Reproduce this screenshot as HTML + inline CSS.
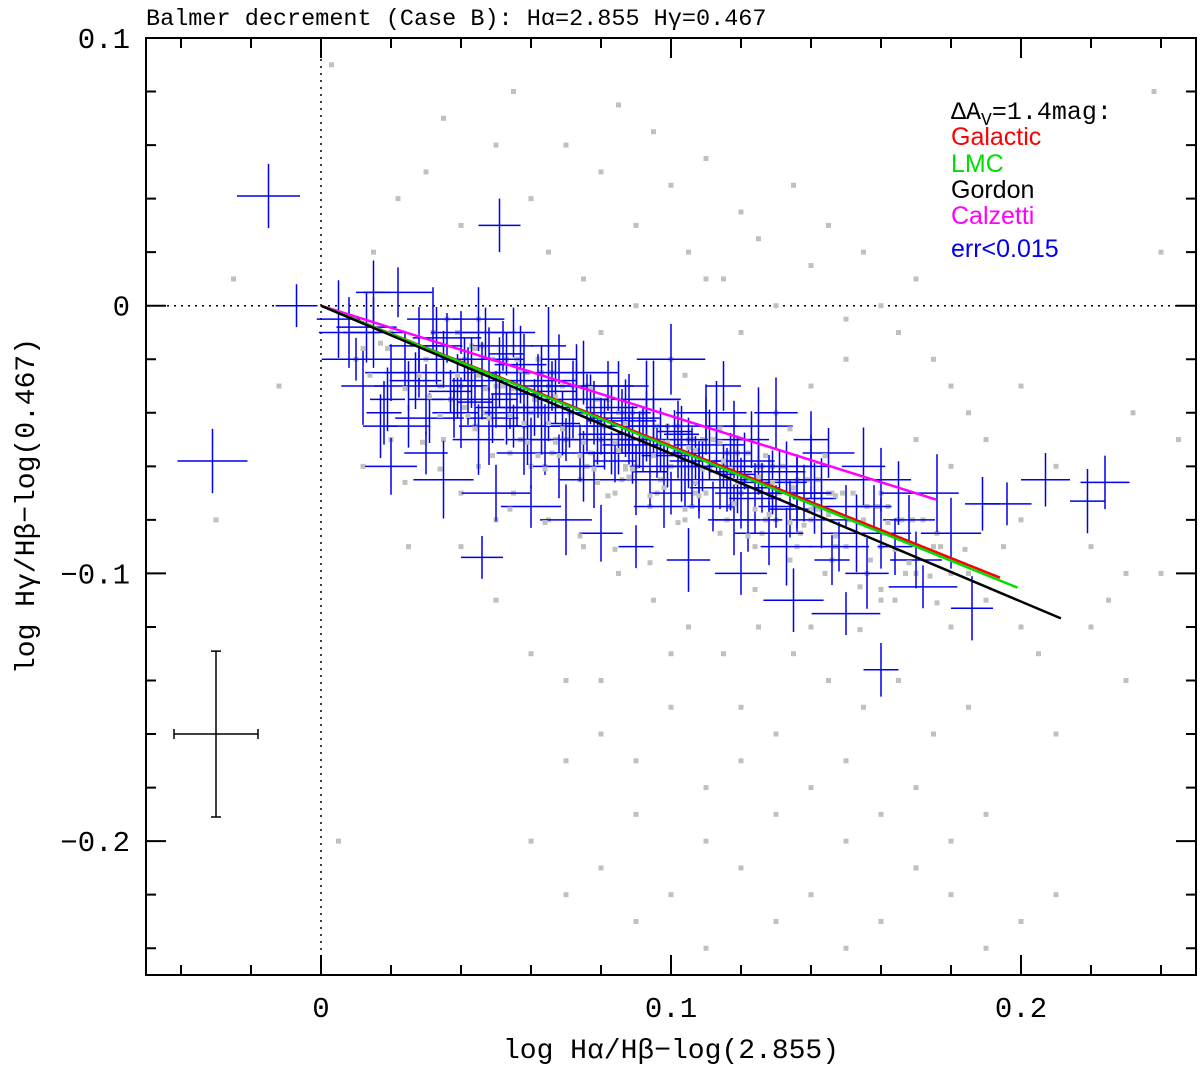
<!DOCTYPE html>
<html><head><meta charset="utf-8"><style>
body{margin:0;background:#fff;}
svg{display:block;}
</style></head><body>
<svg id="chart" width="1200" height="1068" xmlns="http://www.w3.org/2000/svg"></svg>
<script>
// ---- data ----
const xTicksMajor = [0, 0.1, 0.2];
const xTickLabels = ["0", "0.1", "0.2"];
const yTicksMajor = [0.1, 0, -0.1, -0.2];
const yTickLabels = ["0.1", "0", "\u22120.1", "\u22120.2"];
const galacticEnd = [0.194, -0.1016];
const lmcEnd = [0.199, -0.1053];
const gordonEnd = [0.2114, -0.1168];
const calzettiEnd = [0.1757, -0.0724];
const exampleErr = [-0.03, -0.16, 0.012, 0.031];
const grayX = [-0.025,-0.03,-0.012,0.003,0.005,0.01,0.015,0.02,0.022,0.03,0.035,0.04,0.045,0.05,0.055,0.06,0.062,0.065,0.07,0.075,0.08,0.085,0.09,0.095,0.1,0.105,0.11,0.115,0.12,0.125,0.13,0.135,0.14,0.145,0.15,0.155,0.16,0.165,0.17,0.175,0.18,0.185,0.19,0.2,0.21,0.22,0.23,0.24,
0.03,0.04,0.05,0.06,0.07,0.08,0.09,0.1,0.11,0.12,0.13,0.14,0.15,0.16,0.17,0.18,0.19,0.2,
0.035,0.045,0.055,0.065,0.075,0.085,0.095,0.105,0.115,0.125,0.135,0.145,0.155,0.165,0.175,0.185,
0.04,0.05,0.06,0.07,0.08,0.09,0.1,0.11,0.12,0.13,0.14,0.15,0.16,0.17,0.18,
0.06,0.07,0.08,0.09,0.1,0.11,0.12,0.13,0.14,0.15,0.16,0.17,0.18,0.19,0.2,0.21,
0.07,0.09,0.11,0.13,0.15,0.17,0.19,0.21,0.23,0.08,0.1,0.12,0.14,0.16,0.18,0.22,0.24,0.245,
0.075,0.095,0.115,0.135,0.155,0.175,0.195,0.065,0.085,0.105,0.125,0.145,0.165,0.185,0.205,0.225,
0.09,0.12,0.15,0.18,0.11,0.14,0.17,0.2,0.13,0.16,0.08,0.1,0.06,0.05,0.04,0.02,0.012,0.025,0.232,0.238,
0.032,0.037,0.043,0.048,0.053,0.058,0.063,0.067,0.072,0.077,0.082,0.087,0.092,0.097,0.102,0.107,0.112,0.117,0.122,0.127,0.132,0.137,0.142,0.147,0.152,0.157,0.162,0.167,0.172,0.177,
0.034,0.039,0.044,0.049,0.054,0.059,0.064,0.069,0.074,0.079,0.084,0.089,0.094,0.099,0.104,0.109,0.114,0.119,0.124,0.129,0.134,0.139,0.144,0.149,0.154,0.159,0.164,0.169,
0.041,0.047,0.052,0.057,0.061,0.066,0.071,0.076,0.081,0.086,0.091,0.096,0.101,0.106,0.111,0.116,0.121,0.126,0.131,0.136,0.141,0.146,0.151,0.156,0.161,
0.036,0.046,0.056,0.066,0.076,0.086,0.096,0.106,0.116,0.126,0.136,0.146,0.156,0.166,0.176];
const grayY = [0.01,-0.08,-0.03,0.09,-0.2,-0.02,0.02,-0.01,0.04,0.05,0.07,0.03,-0.005,0.06,0.08,0.04,-0.02,0.02,0.06,0.01,0.05,0.075,0.03,0.065,0.045,0.02,0.055,0.01,0.035,0.025,0.0,0.045,0.015,0.03,-0.005,0.02,0.0,-0.01,0.01,-0.02,-0.03,-0.04,-0.05,-0.03,-0.06,-0.09,-0.1,0.02,
-0.02,-0.03,-0.03,-0.04,-0.05,-0.05,-0.06,-0.06,-0.07,-0.07,-0.08,-0.08,-0.09,-0.09,-0.1,-0.1,-0.11,-0.12,
-0.05,-0.06,-0.07,-0.08,-0.09,-0.1,-0.11,-0.12,-0.13,-0.12,-0.13,-0.14,-0.15,-0.14,-0.16,-0.15,
-0.09,-0.11,-0.13,-0.14,-0.16,-0.17,-0.15,-0.18,-0.17,-0.19,-0.18,-0.2,-0.19,-0.21,-0.2,
-0.2,-0.22,-0.21,-0.23,-0.22,-0.24,-0.21,-0.23,-0.22,-0.24,-0.23,-0.21,-0.22,-0.24,-0.23,-0.22,
-0.17,-0.19,-0.2,-0.16,-0.17,-0.18,-0.19,-0.16,-0.14,-0.14,-0.13,-0.15,-0.12,-0.11,-0.12,-0.12,-0.1,-0.05,
-0.04,-0.05,-0.06,-0.07,-0.08,-0.09,-0.09,-0.03,-0.04,-0.05,-0.06,-0.07,-0.08,-0.1,-0.13,-0.11,
0.0,-0.01,-0.02,-0.06,0.01,-0.03,-0.05,-0.08,-0.04,-0.07,-0.01,-0.02,-0.06,-0.08,-0.07,-0.05,-0.06,-0.09,-0.04,0.08,
-0.01,-0.035,-0.015,-0.04,-0.02,-0.045,-0.025,-0.05,-0.03,-0.055,-0.035,-0.06,-0.04,-0.065,-0.045,-0.07,-0.05,-0.075,-0.055,-0.08,-0.06,-0.085,-0.065,-0.09,-0.07,-0.095,-0.075,-0.1,-0.08,-0.09,
-0.03,-0.01,-0.045,-0.02,-0.055,-0.025,-0.06,-0.03,-0.065,-0.035,-0.07,-0.04,-0.075,-0.045,-0.08,-0.05,-0.085,-0.055,-0.09,-0.06,-0.095,-0.065,-0.1,-0.07,-0.105,-0.075,-0.11,-0.08,
-0.02,-0.04,-0.03,-0.05,-0.035,-0.055,-0.04,-0.06,-0.045,-0.065,-0.05,-0.07,-0.055,-0.075,-0.06,-0.08,-0.065,-0.085,-0.07,-0.09,-0.075,-0.095,-0.08,-0.1,-0.085,
-0.005,-0.015,-0.02,-0.025,-0.03,-0.04,-0.045,-0.05,-0.055,-0.06,-0.065,-0.07,-0.075,-0.08,-0.085];
const blueX = [-0.015,-0.007,-0.031,0.051,0.046,0.16,0.186,0.207,0.224,0.219,0.196,0.189,
0.01,0.012,0.015,0.018,0.02,0.022,0.025,0.028,0.03,0.032,0.035,0.038,0.04,0.042,0.045,0.048,0.05,0.052,0.055,0.058,0.06,0.062,0.065,0.068,0.07,0.072,0.075,0.078,0.08,0.082,0.085,0.088,0.09,0.092,0.095,0.098,0.1,0.102,0.105,0.108,0.11,0.112,0.115,0.118,0.12,0.122,0.125,0.128,0.13,0.133,0.136,0.14,0.143,0.146,0.15,0.153,0.156,0.16,0.164,0.168,0.172,0.176,0.18,
0.015,0.02,0.025,0.03,0.035,0.04,0.045,0.05,0.055,0.06,0.065,0.07,0.075,0.08,0.085,0.09,0.095,0.1,0.105,0.11,0.115,0.12,0.125,0.13,0.135,0.14,0.145,0.15,0.155,0.16,0.165,0.17,
0.028,0.038,0.048,0.058,0.068,0.078,0.088,0.098,0.108,0.118,0.128,0.138,0.148,0.158,0.033,0.043,0.053,0.063,0.073,0.083,0.093,0.103,0.113,0.123,0.133,0.143,0.005,0.008,0.017,0.024,
0.036,0.041,0.046,0.051,0.056,0.061,0.066,0.071,0.076,0.081,0.086,0.091,0.096,0.101,0.106,0.111,0.116,0.121,0.126,0.131,0.136,0.141,
0.039,0.044,0.049,0.054,0.059,0.064,0.069,0.074,0.079,0.084,0.089,0.094,0.099,0.104,0.109,0.114,0.119,0.124,0.129,0.134,
0.047,0.053,0.057,0.063,0.067,0.073,0.077,0.083,0.087,0.093,0.097,0.103,0.107,0.113,0.117,0.013,0.019,0.027,0.031,0.037];
const blueY = [0.041,0.0,-0.058,0.03,-0.094,-0.136,-0.113,-0.065,-0.066,-0.073,-0.074,-0.074,
-0.02,-0.03,-0.01,-0.04,-0.025,0.005,-0.045,-0.015,-0.035,-0.005,-0.02,-0.04,-0.01,-0.03,-0.05,-0.02,-0.035,-0.015,-0.045,-0.025,-0.055,-0.03,-0.04,-0.02,-0.05,-0.035,-0.06,-0.04,-0.045,-0.03,-0.055,-0.04,-0.065,-0.05,-0.045,-0.06,-0.07,-0.05,-0.055,-0.065,-0.045,-0.075,-0.06,-0.05,-0.07,-0.08,-0.06,-0.065,-0.075,-0.09,-0.07,-0.06,-0.08,-0.095,-0.075,-0.085,-0.1,-0.065,-0.09,-0.08,-0.105,-0.07,-0.085,
0.005,-0.06,-0.03,-0.055,-0.065,-0.04,-0.005,-0.07,-0.01,-0.075,-0.015,-0.08,-0.025,-0.085,-0.03,-0.09,-0.035,-0.02,-0.095,-0.04,-0.03,-0.1,-0.045,-0.04,-0.11,-0.05,-0.055,-0.115,-0.06,-0.085,-0.07,-0.095,
-0.025,-0.035,-0.045,-0.05,-0.06,-0.065,-0.05,-0.075,-0.065,-0.08,-0.085,-0.07,-0.09,-0.075,-0.015,-0.025,-0.04,-0.045,-0.03,-0.055,-0.035,-0.06,-0.04,-0.05,-0.06,-0.065,-0.005,-0.01,-0.045,-0.02,
-0.012,-0.02,-0.028,-0.025,-0.033,-0.038,-0.03,-0.045,-0.04,-0.048,-0.043,-0.05,-0.055,-0.047,-0.06,-0.052,-0.065,-0.058,-0.068,-0.062,-0.07,-0.072,
-0.03,-0.036,-0.042,-0.038,-0.045,-0.05,-0.044,-0.055,-0.05,-0.058,-0.052,-0.062,-0.056,-0.065,-0.06,-0.068,-0.063,-0.072,-0.066,-0.076,
-0.01,-0.018,-0.022,-0.028,-0.032,-0.025,-0.035,-0.038,-0.042,-0.045,-0.05,-0.048,-0.058,-0.055,-0.062,-0.008,-0.035,-0.028,-0.042,-0.032];
const blueEx = [0.009,0.006,0.01,0.006,0.006,0.005,0.006,0.007,0.007,0.005,0.007,0.005];
const blueEy = [0.012,0.008,0.012,0.01,0.008,0.01,0.012,0.01,0.01,0.012,0.008,0.01];

// ---- axes ----
const L=146,R=1196,T=38,B=975;
const xMin=-0.05,xMax=0.25,yMin=-0.25,yMax=0.1;
const sx=v=>L+(v-xMin)/(xMax-xMin)*(R-L);
const sy=v=>B-(v-yMin)/(yMax-yMin)*(B-T);
const svg=document.getElementById('chart');
const NS='http://www.w3.org/2000/svg';
function mk(tag,attrs,parent){const e=document.createElementNS(NS,tag);for(const k in attrs)e.setAttribute(k,attrs[k]);(parent||svg).appendChild(e);return e;}

let g=mk('g',{});


mk('line',{x1:sx(0),x2:sx(0),y1:T,y2:B,stroke:'#000','stroke-width':1.5,'stroke-dasharray':'2,5'},g);
mk('line',{x1:L,x2:R,y1:sy(0),y2:sy(0),stroke:'#000','stroke-width':1.5,'stroke-dasharray':'2,5'},g);

g=mk('g',{fill:'#c0c0c0'});


for(let i=0;i<grayX.length;i++){
  const r=mk('rect',{x:sx(grayX[i])-2.5,y:sy(grayY[i])-2.5,width:5,height:5},g);
  
  
}
g=mk('g',{stroke:'#0000ee','stroke-width':1.5,fill:'none'});


for(let i=0;i<blueX.length;i++){
  const ex=blueEx[i]!==undefined?blueEx[i]:(0.005+((i*7)%5)*0.0012);
  const ey=blueEy[i]!==undefined?blueEy[i]:(0.008+((i*11)%6)*0.0013);
  const x=sx(blueX[i]),y=sy(blueY[i]);
  const c=mk('path',{d:`M${sx(blueX[i]-ex)} ${y}H${sx(blueX[i]+ex)}M${x} ${sy(blueY[i]+ey)}V${sy(blueY[i]-ey)}`},g);
  
  
}
g=mk('g',{fill:'#c0c0c0'});


for(let i=12;i<blueX.length;i+=2){
  const r=mk('rect',{x:sx(blueX[i]+0.004)-2.5,y:sy(blueY[i]-0.006)-2.5,width:5,height:5},g);
  
  
}
const curves=[[calzettiEnd,'#ff00ff','calzetti-line'],[galacticEnd,'#ff0000','galactic-line'],[lmcEnd,'#00dd00','lmc-line'],[gordonEnd,'#000000','gordon-line']];
for(const c of curves){
  const l=mk('line',{x1:sx(0),y1:sy(0),x2:sx(c[0][0]),y2:sy(c[0][1]),stroke:c[1],'stroke-width':2.5});
  
  
}
const ee=mk('path',{d:`M${sx(exampleErr[0]-exampleErr[2])} ${sy(exampleErr[1])}H${sx(exampleErr[0]+exampleErr[2])}M${sx(exampleErr[0])} ${sy(exampleErr[1]+exampleErr[3])}V${sy(exampleErr[1]-exampleErr[3])}M${sx(exampleErr[0]-exampleErr[2])} ${sy(exampleErr[1])-5}v10M${sx(exampleErr[0]+exampleErr[2])} ${sy(exampleErr[1])-5}v10M${sx(exampleErr[0])-5} ${sy(exampleErr[1]+exampleErr[3])}h10M${sx(exampleErr[0])-5} ${sy(exampleErr[1]-exampleErr[3])}h10`,stroke:'#000','stroke-width':1.5,fill:'none'});



const fr=mk('rect',{x:L,y:T,width:R-L,height:B-T,fill:'none',stroke:'#000','stroke-width':2});


g=mk('g',{stroke:'#000','stroke-width':2});


let d='';
for(let k=-2;k<=12;k++){const v=k*0.02;if(v<xMin-1e-9||v>xMax+1e-9)continue;const major=Math.abs(v*10-Math.round(v*10))<1e-6;const len=major?20:10;const x=sx(v);d+=`M${x} ${B}v${-len}M${x} ${T}v${len}`;}
for(let k=-12;k<=5;k++){const v=k*0.02;if(v<yMin-1e-9||v>yMax+1e-9)continue;const major=Math.abs(v*10-Math.round(v*10))<1e-6;const len=major?20:10;const y=sy(v);d+=`M${L} ${y}h${len}M${R} ${y}h${-len}`;}
mk('path',{d:d},g);
const font='"Liberation Serif", serif';
const mono='"Liberation Mono", monospace';
g=mk('g',{'font-family':mono,'font-size':29,fill:'#000'});


xTicksMajor.forEach((v,i)=>{const t=mk('text',{x:sx(v),y:1017,'text-anchor':'middle'},g);t.textContent=xTickLabels[i];});
g=mk('g',{'font-family':mono,'font-size':29,fill:'#000'});


yTicksMajor.forEach((v,i)=>{const t=mk('text',{x:130,y:sy(v)+10,'text-anchor':'end'},g);t.textContent=yTickLabels[i];});
let t=mk('text',{x:671,y:1058,'text-anchor':'middle','font-family':mono,'font-size':28});


t.textContent='log H\u03b1/H\u03b2\u2212log(2.855)';
t=mk('text',{x:0,y:0,'text-anchor':'middle','font-family':mono,'font-size':28,transform:'translate(34,506) rotate(-90)'});


t.textContent='log H\u03b3/H\u03b2\u2212log(0.467)';
t=mk('text',{x:146,y:25,'font-family':mono,'font-size':23.5});


t.textContent='Balmer decrement (Case B): H\u03b1=2.855 H\u03b3=0.467';
g=mk('g',{});


t=mk('text',{x:951,y:119,'font-family':mono,'font-size':25},g);


t.innerHTML='\u0394A<tspan font-size="18" dy="6">V</tspan><tspan dy="-6">=1.4mag:</tspan>';
const leg=[['Galactic','#ff0000',145],['LMC','#00dd00',172],['Gordon','#000',198],['Calzetti','#ff00ff',224],['err<0.015','#0000ee',257]];
for(const e of leg){t=mk('text',{x:951,y:e[2],'font-family':'"Liberation Sans", sans-serif','font-size':25,fill:e[1]},g);


t.textContent=e[0];}
</script>
</body></html>
